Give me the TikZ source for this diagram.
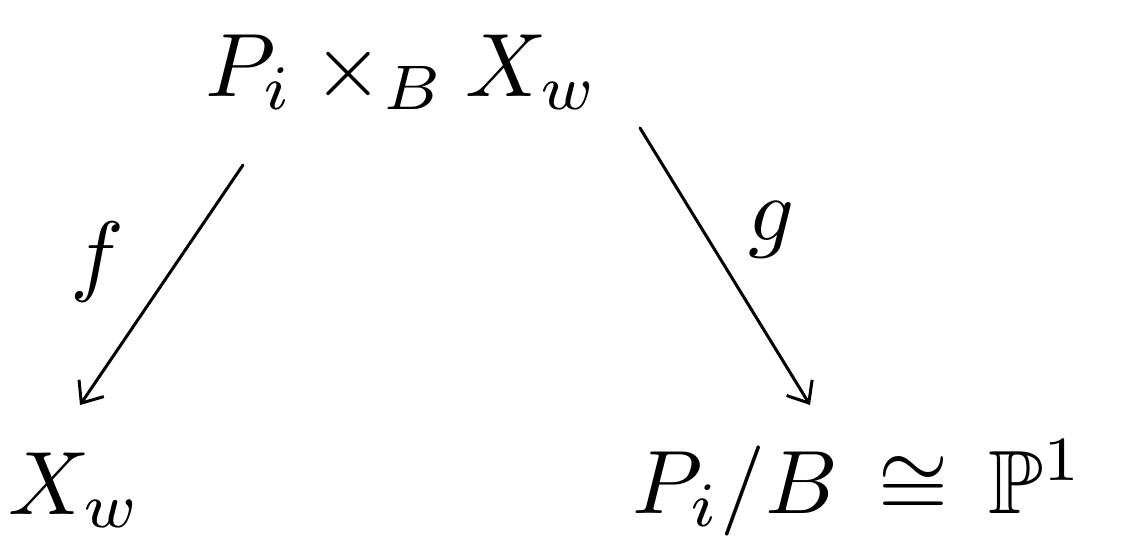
\documentclass[tikz,border=0pt]{standalone}
\usepackage{amsmath,amssymb}
\usetikzlibrary{arrows.meta}
\tikzset{
  lbl/.style={inner sep=0pt, scale=9},
  map/.style={line width=3pt, line cap=round, -{Straight Barb[length=18pt,width=30pt,line width=3pt]}}
}
\begin{document}
\begin{tikzpicture}[x=1pt,y=-1pt]
\useasboundingbox (0,0) rectangle (1121,550);
\node[lbl] (top) at (402,72) {$P_i \times_{B} X_w$};
\node[lbl] (xw) at (75,490) {$X_w$};
\node[lbl] (p1) at (858,488) {$P_i/B \,\cong\, \mathbb{P}^1$};
\coordinate (fs) at (243,165);
\coordinate (fe) at (80,405);
\coordinate (gs) at (640,128);
\coordinate (ge) at (810,405);
\draw[map] (fs) -- (fe);
\draw[map] (gs) -- (ge);
\node[lbl] (f) at (97,262) {$f$};
\node[lbl] (g) at (772,230) {$g$};
\end{tikzpicture}
\end{document}
